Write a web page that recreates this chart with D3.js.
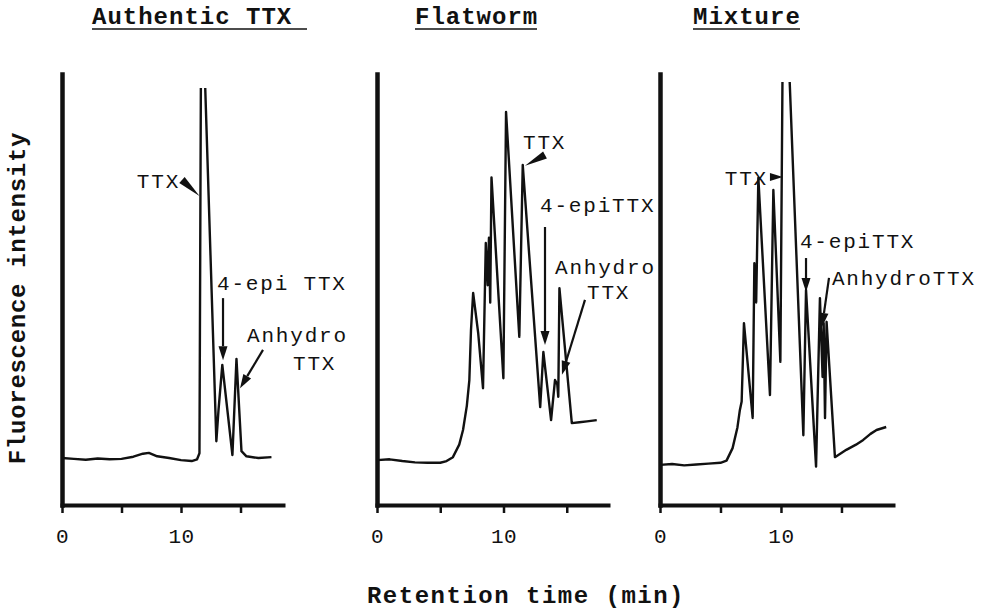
<!DOCTYPE html>
<html>
<head>
<meta charset="utf-8">
<script src="https://cdn.jsdelivr.net/npm/d3@7"></script>
<style>
  body { margin: 0; background: #fff; }
  text { font-family: "Liberation Mono", "Courier New", monospace; fill: #111; }
</style>
</head>
<body>
<svg id="chart" width="990" height="611"></svg>
<script>
/* chromatogram data: [retention time (min), fluorescence (arbitrary units, 0-100 = axis height)] */
var panelTitles = ["Authentic TTX", "Flatworm", "Mixture"];
var tickValues = [0, 5, 10, 15];
var labelledTicks = [0, 10];

var authenticTrace = [[0,10.9],[1,10.7],[2,10.5],[3,10.8],[4,10.6],[5,10.7],[6,11.2],[6.8,11.9],[7.3,12.1],
  [8,11.3],[9,10.9],[10,10.4],[10.9,10.2],[11.35,10.6],[11.55,12],[11.7,120],[11.77,120],[12.97,14.8],
  [13.15,22],[13.47,32.5],[14.32,11.6],[14.66,33.9],[15.08,12.5],[15.5,11.3],[16.5,10.9],[17.6,11.1]];

var flatwormTrace = [[0,10.4],[1,10.6],[2,10.2],[3,9.9],[4,9.8],[5,9.8],[5.5,10.2],[6.0,11.1],[6.5,14],
  [6.8,17.4],[7.1,23],[7.3,29],[7.43,40.6],[7.6,49.2],[8.0,39.9],[8.38,27.1],[8.6,60.8],[8.75,51],[8.85,62],
  [8.95,47],[9.05,76],[9.99,29.4],[10.2,91.2],[11.25,39],[11.52,78.9],[12.9,22.7],[13.15,35.5],[13.76,19.7],
  [14.07,29],[14.25,28],[14.33,25.1],[14.42,50.3],[15.4,19],[16,19.2],[16.6,19.4],[17.37,19.7]];

var mixtureTrace = [[0,9.3],[1,9.5],[2,9.2],[3,9.4],[4,9.6],[5,9.8],[5.5,10.3],[6.0,13.2],[6.4,18],[6.6,22],
  [6.75,24],[6.94,42.2],[7.66,20.2],[7.8,56.1],[7.95,47],[8.13,75.9],[9.09,25.5],[9.37,73.1],[9.95,33.2],
  [10.18,120],[10.42,120],[11.85,16.2],[12.07,49.9],[12.9,8.9],[13.22,48],[13.44,29.7],[13.53,42.2],
  [13.64,20.2],[13.77,42.5],[14.46,11.1],[15.4,12.8],[16.2,14],[16.8,15.1],[17.4,16.5],[17.9,17.4],[18.7,18.1]];

/* peak labels, placed in data units */
var authenticLabels = [
  { text: "TTX", t: 9.92, v: 75.2, anchor: "end" },
  { text: "4-epi TTX", t: 13.03, v: 51.5, anchor: "start" },
  { text: "Anhydro", t: 15.55, v: 39.6, anchor: "start" },
  { text: "TTX", t: 19.41, v: 33.0, anchor: "start" }
];
var flatwormLabels = [
  { text: "TTX", t: 11.54, v: 84.2, anchor: "start" },
  { text: "4-epiTTX", t: 12.89, v: 69.6, anchor: "start" },
  { text: "Anhydro", t: 14.07, v: 55.3, anchor: "start" },
  { text: "TTX", t: 16.6, v: 49.6, anchor: "start" }
];
var mixtureLabels = [
  { text: "TTX", t: 8.93, v: 75.9, anchor: "end" },
  { text: "4-epiTTX", t: 11.57, v: 61.3, anchor: "start" },
  { text: "AnhydroTTX", t: 14.21, v: 52.7, anchor: "start" }
];

var authenticArrows = [
  { kind: "wedge", from: [10.08, 75.4], to: [11.55, 71.7] },
  { kind: "arrow", from: [13.53, 48.0], to: [13.53, 33.6] },
  { kind: "arrow", from: [16.89, 36.0], to: [14.96, 27.1] }
];
var flatwormArrows = [
  { kind: "wedge", from: [13.28, 81.2], to: [11.7, 78.7] },
  { kind: "arrow", from: [13.28, 64.5], to: [13.28, 37.1] },
  { kind: "arrow", from: [16.44, 47.6], to: [14.62, 30.2] }
];
var mixtureArrows = [
  { kind: "wedge", from: [9.09, 76.1], to: [10.15, 76.1] },
  { kind: "arrow", from: [12.07, 57.3], to: [12.07, 49.4] },
  { kind: "arrow", from: [13.97, 52.7], to: [13.39, 41.3] }
];

/* pagina-indeling van de drie panelen */
var layout = [
  { left: 62,  right: 283, tMax: 18.57, clipTop: 88, titleX: 92,  underline: [92, 307] },
  { left: 377, right: 608, tMax: 18.26, clipTop: 70, titleX: 415, underline: [415, 537] },
  { left: 660, right: 893, tMax: 19.26, clipTop: 82, titleX: 693, underline: [693, 800] }
];
var traces = [authenticTrace, flatwormTrace, mixtureTrace];
var labels = [authenticLabels, flatwormLabels, mixtureLabels];
var arrows = [authenticArrows, flatwormArrows, mixtureArrows];

var svg = d3.select("#chart");
var ink = "#111";

var y = d3.scaleLinear().domain([0, 100]).range([505, 74]);

layout.forEach(function(p, i) {
  var x = d3.scaleLinear().domain([0, p.tMax]).range([p.left, p.right]);
  var g = svg.append("g");

  // titel met onderstreping
  g.append("text")
    .attr("x", p.titleX)
    .attr("y", 24)
    .attr("font-size", 24)
    .attr("font-weight", "bold")
    .attr("letter-spacing", 1)
    .text(panelTitles[i]);
  g.append("line")
    .attr("x1", p.underline[0]).attr("x2", p.underline[1])
    .attr("y1", 29).attr("y2", 29)
    .attr("stroke", ink).attr("stroke-width", 1.5);

  // clip voor de pieken die boven de schaal uitlopen
  g.append("clipPath").attr("id", "clip" + i)
    .append("rect")
    .attr("x", p.left).attr("y", p.clipTop)
    .attr("width", p.right - p.left + 10).attr("height", 505 - p.clipTop);

  var line = d3.line()
    .x(function(d) { return x(d[0]); })
    .y(function(d) { return y(d[1]); });

  g.append("path")
    .datum(traces[i])
    .attr("clip-path", "url(#clip" + i + ")")
    .attr("d", line)
    .attr("fill", "none")
    .attr("stroke", ink)
    .attr("stroke-width", 2.4)
    .attr("stroke-linejoin", "round");

  // x-as
  var xAxis = d3.axisBottom(x)
    .tickValues(tickValues)
    .tickSize(8)
    .tickSizeOuter(0)
    .tickFormat(function(d) { return labelledTicks.indexOf(d) >= 0 ? d : ""; });
  var ax = g.append("g").attr("transform", "translate(0,505)").call(xAxis);
  ax.select(".domain").attr("stroke", ink).attr("stroke-width", 4).attr("stroke-linecap", "square");
  ax.selectAll(".tick line").attr("stroke", ink).attr("stroke-width", 2.5);
  ax.selectAll(".tick text")
    .attr("y", 38).attr("dy", 0)
    .attr("fill", ink)
    .attr("font-size", 21)
    .attr("letter-spacing", 0.5)
    .attr("font-family", "Liberation Mono, monospace");

  // y-as zonder ticks
  var yAxis = d3.axisLeft(y).tickValues([]).tickSizeOuter(0);
  var ay = g.append("g").attr("transform", "translate(" + p.left + ",0)").call(yAxis);
  ay.select(".domain").attr("stroke", ink).attr("stroke-width", 4.5).attr("stroke-linecap", "square");

  // piek-labels
  g.selectAll(".peak-label")
    .data(labels[i])
    .enter()
    .append("text")
    .attr("class", "peak-label")
    .attr("x", function(d) { return x(d.t); })
    .attr("y", function(d) { return y(d.v); })
    .attr("dy", "0.35em")
    .attr("text-anchor", function(d) { return d.anchor; })
    .attr("font-size", 21)
    .attr("letter-spacing", 1.8)
    .text(function(d) { return d.text; });

  // pijlen en wiggen
  arrows[i].forEach(function(a) {
    var x0 = x(a.from[0]), y0 = y(a.from[1]);
    var x1 = x(a.to[0]), y1 = y(a.to[1]);
    var dx = x1 - x0, dy = y1 - y0;
    var len = Math.sqrt(dx * dx + dy * dy);
    var ux = dx / len, uy = dy / len;
    var nx = -uy, ny = ux;
    if (a.kind === "wedge") {
      var w = 4;
      g.append("path")
        .attr("d", "M" + (x0 + nx * w) + "," + (y0 + ny * w) +
                   "L" + (x0 - nx * w) + "," + (y0 - ny * w) +
                   "L" + x1 + "," + y1 + "Z")
        .attr("fill", ink);
    } else {
      var head = 14, hw = 4.5;
      var bx = x1 - ux * head, by = y1 - uy * head;
      g.append("line")
        .attr("x1", x0).attr("y1", y0)
        .attr("x2", bx).attr("y2", by)
        .attr("stroke", ink).attr("stroke-width", 2.2);
      g.append("path")
        .attr("d", "M" + (bx + nx * hw) + "," + (by + ny * hw) +
                   "L" + (bx - nx * hw) + "," + (by - ny * hw) +
                   "L" + x1 + "," + y1 + "Z")
        .attr("fill", ink);
    }
  });
});

/* as-titels */
svg.append("text")
  .attr("transform", "translate(17,298) rotate(-90)")
  .attr("text-anchor", "middle")
  .attr("dy", "0.35em")
  .attr("font-size", 24)
  .attr("font-weight", "bold")
  .attr("letter-spacing", 0.7)
  .text("Fluorescence intensity");

svg.append("text")
  .attr("x", 526)
  .attr("y", 603)
  .attr("text-anchor", "middle")
  .attr("font-size", 24)
  .attr("font-weight", "bold")
  .attr("letter-spacing", 1.5)
  .text("Retention time (min)");
</script>
</body>
</html>
